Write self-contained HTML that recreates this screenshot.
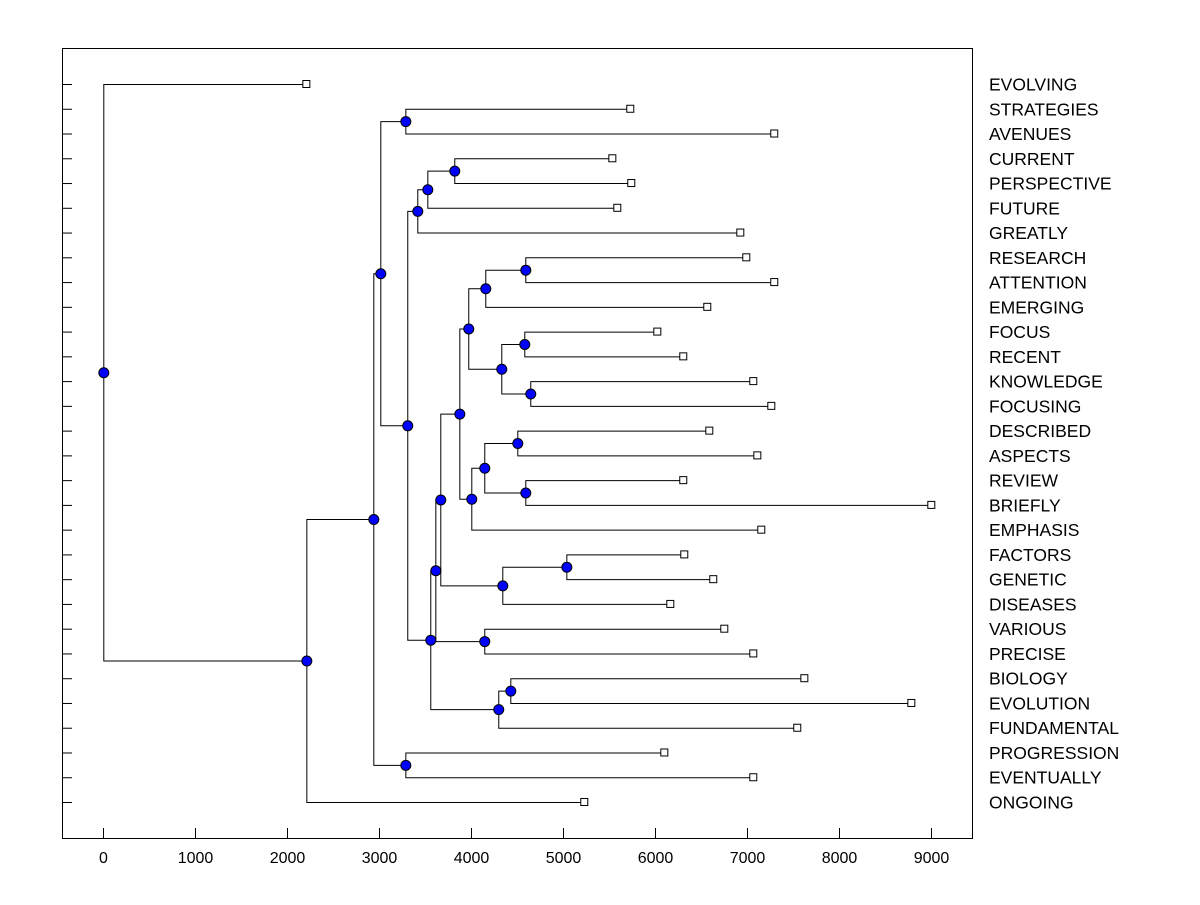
<!DOCTYPE html>
<html><head><meta charset="utf-8"><style>
html,body{margin:0;padding:0;background:#fff;}
svg text{font-family:"Liberation Sans",Arial,sans-serif;font-size:16px;fill:#000;}
svg text.leaf{font-size:17.5px;}
</style></head><body>
<svg id="chart" width="1200" height="900" xmlns="http://www.w3.org/2000/svg">
<rect x="62.5" y="48.5" width="910" height="790" fill="#fff" stroke="#000" stroke-width="1"/>
<g id="links"></g>
<g id="marks"></g>
<g id="axes"></g>
</svg>
<script>
const leafNames=["EVOLVING","STRATEGIES","AVENUES","CURRENT","PERSPECTIVE","FUTURE","GREATLY","RESEARCH","ATTENTION","EMERGING","FOCUS","RECENT","KNOWLEDGE","FOCUSING","DESCRIBED","ASPECTS","REVIEW","BRIEFLY","EMPHASIS","FACTORS","GENETIC","DISEASES","VARIOUS","PRECISE","BIOLOGY","EVOLUTION","FUNDAMENTAL","PROGRESSION","EVENTUALLY","ONGOING"];
const leafValues=[2207,5728,7293,5533,5739,5587,6924,6989,7293,6565,6022,6304,7065,7261,6587,7109,6304,9000,7152,6315,6630,6163,6750,7065,7620,8783,7543,6098,7065,5228];
const mergeLeft=[1,3,31,32,7,34,10,12,36,35,14,16,40,42,39,19,45,44,22,47,24,50,49,33,30,27,54,56,0];
const mergeRight=[2,4,5,6,8,9,11,13,37,38,15,17,41,18,43,20,21,46,23,48,25,26,51,52,53,28,55,29,57];
const mergeHeights=[3283,3815,3522,3413,4587,4152,4576,4641,4326,3967,4500,4587,4141,4000,3870,5033,4337,3663,4141,3609,4424,4293,3554,3304,3011,3283,2935,2207,0];
const xTicks=[0,1000,2000,3000,4000,5000,6000,7000,8000,9000];

const NS="http://www.w3.org/2000/svg";
const X0=103.3, PX=0.0920;
function xs(v){return X0+v*PX;}
function ys(i){return 84+i*(802-84)/29;}
function mk(tag,attrs,parent){const e=document.createElementNS(NS,tag);for(const k in attrs)e.setAttribute(k,attrs[k]);parent.appendChild(e);return e;}
const links=document.getElementById('links'),marks=document.getElementById('marks'),axes=document.getElementById('axes');
const n=leafNames.length;
const nx=[],ny=[];
for(let i=0;i<n;i++){nx.push(xs(leafValues[i]));ny.push(ys(i));}
for(let m=0;m<mergeHeights.length;m++){
  const a=mergeLeft[m],b=mergeRight[m];
  const x=xs(mergeHeights[m]);const y=(ny[a]+ny[b])/2;
  nx.push(x);ny.push(y);
  const p=mk('path',{d:`M${nx[a]},${ny[a]+0.5}H${x+0.5}V${ny[b]+0.5}H${nx[b]}`,fill:'none',stroke:'#000','stroke-width':1},links);
  
  
}
for(let i=0;i<n;i++){
  const r=mk('rect',{x:nx[i]-3.5,y:ny[i]-3.5,width:7,height:7,fill:'#fff',stroke:'#000','stroke-width':1},marks);
  
  
  const t=mk('text',{x:989,y:ny[i]+6.5,'class':'leaf'},axes);t.textContent=leafNames[i];
  
  
  const tk=mk('line',{x1:62,x2:72,y1:ny[i]+0.5,y2:ny[i]+0.5,stroke:'#000','stroke-width':1},axes);
  
  
}
for(let m=0;m<mergeHeights.length;m++){
  const c=mk('circle',{cx:nx[n+m]+0.5,cy:ny[n+m]+0.5,r:5,fill:'#0000ff',stroke:'#000','stroke-width':1},marks);
  
  
}
xTicks.forEach(v=>{
  const x=Math.round(xs(v))+0.5;
  const l=mk('line',{x1:x,x2:x,y1:828,y2:838,stroke:'#000','stroke-width':1},axes);
  
  
  const t=mk('text',{x:x,y:863,'text-anchor':'middle'},axes);t.textContent=v;
  
  
});
</script>
</body></html>
